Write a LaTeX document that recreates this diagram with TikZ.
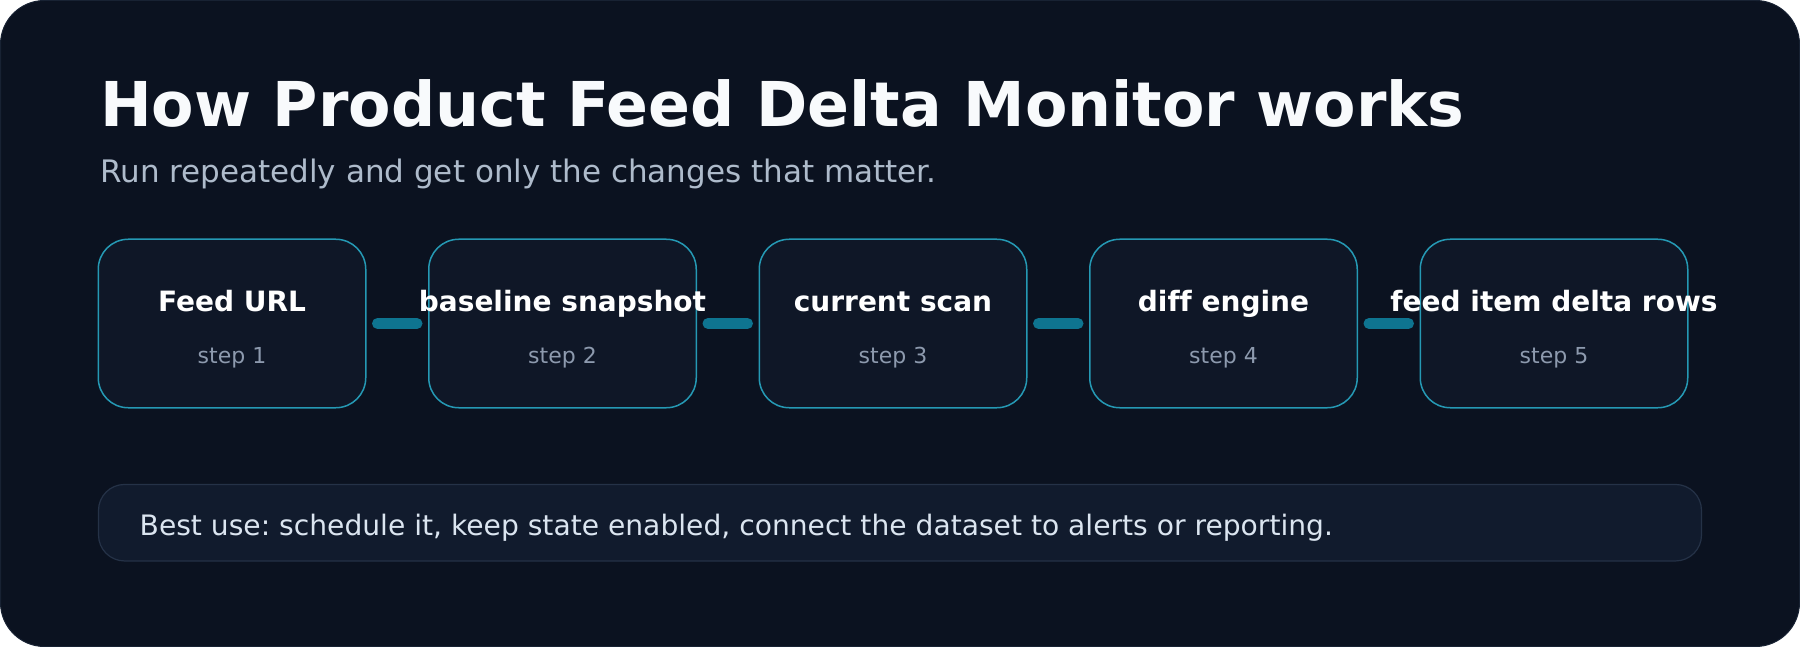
\documentclass[tikz,border=0pt]{standalone}
\usepackage{fontspec}
\setmainfont{DejaVu Sans}[Ligatures=NoCommon]
\frenchspacing
\definecolor{bg}{HTML}{0B1220}
\definecolor{bgedge}{HTML}{182233}
\definecolor{boxfill}{HTML}{0F1727}
\definecolor{boxedge}{HTML}{2599B4}
\definecolor{connc}{HTML}{0E7490}
\definecolor{notefill}{HTML}{111B2D}
\definecolor{noteedge}{HTML}{253247}
\definecolor{titlec}{HTML}{F8FAFC}
\definecolor{subc}{HTML}{AEBBCB}
\definecolor{stepc}{HTML}{8D9AAE}
\definecolor{notec}{HTML}{DBE5F0}
\tikzset{
  stepbox/.style={draw=boxedge, fill=boxfill, line width=1.5pt, rounded corners=30pt,
    minimum width=267.5pt, minimum height=168.5pt, inner sep=0pt},
  conn/.style={draw=connc, line width=11pt, line cap=round, shorten >=11pt, shorten <=11pt},
  steptitle/.style={anchor=base, inner sep=0pt, text=white, font=\fontsize{28}{32}\selectfont\bfseries},
  stepnum/.style={anchor=base, inner sep=0pt, text=stepc, font=\fontsize{22}{26}\selectfont},
  notebox/.style={draw=noteedge, fill=notefill, line width=1.2pt, rounded corners=26pt, inner sep=0pt}
}
\begin{document}
\begin{tikzpicture}[x=1pt,y=-1pt]
\useasboundingbox (0,0) rectangle (1800,647);
\fill[white] (0,0) rectangle (1800,647);
\path[fill=bg, draw=bgedge, line width=1pt, rounded corners=44pt] (0.5,0.5) rectangle (1799.5,646.5);

\node[anchor=base west, inner sep=0pt, text=titlec, font=\fontsize{61.8}{70}\selectfont\bfseries] (title) at (100,126.7) {How Product Feed Delta Monitor works};
\node[anchor=base west, inner sep=0pt, text=subc, font=\fontsize{31}{35}\selectfont] (subtitle) at (100,182.7) {Run repeatedly and get only the changes that matter.};

\node[stepbox] (b1) at (232,323.5) {};
\node[stepbox] (b2) at (562.5,323.5) {};
\node[stepbox] (b3) at (893,323.5) {};
\node[stepbox] (b4) at (1223.5,323.5) {};
\node[stepbox] (b5) at (1554,323.5) {};

\draw[conn] (b1) -- (b2);
\draw[conn] (b2) -- (b3);
\draw[conn] (b3) -- (b4);
\draw[conn] (b4) -- (b5);

\node[steptitle] (t1) at (232,311.7) {Feed URL};
\node[steptitle] (t2) at (562.5,311.7) {baseline snapshot};
\node[steptitle] (t3) at (893,311.7) {current scan};
\node[steptitle] (t4) at (1223.5,311.7) {diff engine};
\node[steptitle] (t5) at (1554,311.7) {feed item delta rows};

\node[stepnum] (s1) at (232,363.3) {step 1};
\node[stepnum] (s2) at (562.5,363.3) {step 2};
\node[stepnum] (s3) at (893,363.3) {step 3};
\node[stepnum] (s4) at (1223.5,363.3) {step 4};
\node[stepnum] (s5) at (1554,363.3) {step 5};

\node[notebox, minimum width=1603pt, minimum height=76.5pt] (note) at (900,522.7) {};
\node[anchor=base west, inner sep=0pt, text=notec, font=\fontsize{28.15}{32}\selectfont] (notetext) at (139.5,535) {Best use: schedule it, keep state enabled, connect the dataset to alerts or reporting.};
\end{tikzpicture}
\end{document}
